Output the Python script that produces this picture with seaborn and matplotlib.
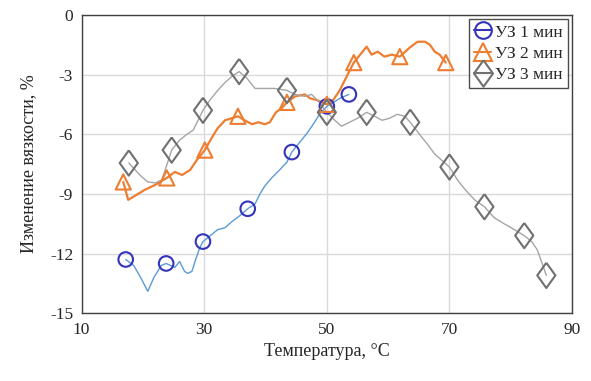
import numpy as np
import pandas as pd
import matplotlib
matplotlib.use("Agg")
import matplotlib.pyplot as plt
from matplotlib.lines import Line2D
import seaborn as sns

# УЗ 1 мин - curve
t1 = [17.2, 18.5, 19.8, 20.8, 21.8, 23.0, 23.8, 25.2, 26.0, 26.8, 27.3, 28.0, 28.6, 29.3,
      29.8, 31.0, 32.2, 33.4, 34.5, 35.8, 37.1, 38.3, 39.1, 39.9, 41.0, 42.3, 43.5, 44.3,
      45.6, 46.9, 48.0, 48.8, 50.0, 51.1, 52.1, 53.6]
v1 = [-12.3, -12.6, -13.3, -13.9, -13.2, -12.6, -12.5, -12.7, -12.4, -12.9, -13.0, -12.9,
      -12.3, -11.7, -11.4, -11.1, -10.8, -10.7, -10.4, -10.1, -9.75, -9.5, -9.0, -8.6,
      -8.2, -7.8, -7.4, -6.9, -6.4, -5.9, -5.4, -5.0, -4.6, -4.4, -4.2, -4.0]
m1_t = [17.2, 23.8, 29.8, 37.1, 44.3, 50.0, 53.6]
m1_v = [-12.3, -12.5, -11.4, -9.75, -6.9, -4.6, -4.0]

# УЗ 2 мин
t2 = [16.8, 17.6, 18.7, 20.3, 22.0, 23.9, 25.2, 26.4, 27.7, 28.8, 30.1, 31.2, 32.2, 33.4,
      34.5, 35.5, 36.6, 37.8, 38.8, 39.9, 40.7, 41.7, 42.6, 43.5, 44.8, 46.4, 47.3, 48.5,
      50.0, 51.0, 52.1, 53.4, 54.4, 55.7, 56.5, 57.3, 58.3, 59.4, 60.6, 61.9, 63.5, 64.8,
      66.0, 66.8, 67.6, 68.4, 69.4]
v2 = [-8.4, -9.3, -9.1, -8.8, -8.55, -8.2, -7.9, -8.05, -7.8, -7.3, -6.8, -6.2, -5.7, -5.3,
      -5.2, -5.1, -5.3, -5.5, -5.4, -5.5, -5.4, -4.9, -4.7, -4.4, -4.1, -4.0, -4.2, -4.3,
      -4.5, -4.3, -3.8, -3.0, -2.4, -1.9, -1.6, -2.0, -1.85, -2.1, -2.0, -2.1, -1.65, -1.35,
      -1.35, -1.5, -1.85, -2.0, -2.4]
m2_t = [16.8, 23.9, 30.1, 35.5, 43.5, 50.0, 54.4, 61.9, 69.4]
m2_v = [-8.4, -8.2, -6.8, -5.1, -4.4, -4.5, -2.4, -2.1, -2.4]

# УЗ 3 мин
t3 = [17.7, 19.5, 20.8, 22.0, 23.1, 24.7, 26.0, 27.2, 28.2, 29.0, 29.8, 30.9, 32.2, 33.4,
      34.5, 35.7, 37.0, 38.3, 39.9, 41.5, 43.5, 44.8, 46.4, 47.5, 48.5, 50.0, 51.3, 52.4,
      53.7, 55.0, 56.5, 57.8, 59.0, 60.2, 61.5, 62.7, 63.6, 65.1, 66.4, 67.6, 68.7, 70.0,
      71.3, 72.6, 74.1, 75.7, 77.3, 78.9, 80.6, 82.2, 83.4, 84.3, 85.0, 85.8]
v3 = [-7.45, -8.05, -8.4, -8.45, -8.3, -6.8, -6.3, -6.0, -5.8, -5.3, -4.8, -4.3, -3.8, -3.4,
      -3.1, -2.85, -3.2, -3.7, -3.7, -3.7, -3.8, -4.0, -4.1, -4.0, -4.3, -4.9, -5.3, -5.6,
      -5.4, -5.2, -4.9, -5.1, -5.3, -5.2, -5.0, -5.1, -5.4, -6.0, -6.5, -7.0, -7.3, -7.65,
      -8.3, -8.8, -9.3, -9.65, -10.2, -10.5, -10.8, -11.1, -11.4, -11.8, -12.4, -13.1]
m3_t = [17.7, 24.7, 29.8, 35.7, 43.5, 50.0, 56.5, 63.6, 70.0, 75.7, 82.2, 85.8]
m3_v = [-7.45, -6.8, -4.8, -2.85, -3.8, -4.9, -4.9, -5.4, -7.65, -9.65, -11.1, -13.1]

labels = ["УЗ 1 мин", "УЗ 2 мин", "УЗ 3 мин"]
line_colors = ["#5B9BD5", "#ED7D31", "#A5A5A5"]
marker_colors = ["#3333BB", "#ED7D31", "#707070"]
# diamond a bit narrower than tall, like the Excel one
diamond = [(0, 1), (0.72, 0), (0, -1), (-0.72, 0), (0, 1)]
markers = ["o", "^", diamond]

lines = pd.concat([
    pd.DataFrame({"t": t, "v": v, "s": s})
    for t, v, s in zip([t1, t2, t3], [v1, v2, v3], labels)
])
marks = pd.concat([
    pd.DataFrame({"t": t, "v": v, "s": s})
    for t, v, s in zip([m1_t, m2_t, m3_t], [m1_v, m2_v, m3_v], labels)
])

sns.set_style("white")
plt.rcParams["font.family"] = ["Liberation Serif", "DejaVu Serif"]
plt.rcParams["axes.unicode_minus"] = False

fig = plt.figure(figsize=(5.91, 3.81), dpi=100)
ax = fig.add_axes([0.138, 0.178, 0.830, 0.783])

widths = [1.0, 1.6, 1.0]
for s, lc, w in zip(labels, line_colors, widths):
    d = lines[lines.s == s]
    sns.lineplot(data=d, x="t", y="v", color=lc, lw=w, sort=False,
                 estimator=None, ax=ax, legend=False, zorder=2)

sizes = [110, 120, 330]
for s, mc, mk, sz in zip(labels, marker_colors, markers, sizes):
    d = marks[marks.s == s]
    sns.scatterplot(data=d, x="t", y="v", marker=mk, s=sz, facecolor="none",
                    edgecolor=mc, linewidth=1.5, ax=ax, legend=False, zorder=3)

ax.set_xlim(10, 90)
ax.set_ylim(-15, 0)
ax.set_xticks(np.arange(10, 91, 20))
ax.set_yticks(np.arange(-15, 1, 3))
ax.grid(True, color="#D9D9D9", lw=1)
ax.set_axisbelow(True)
for sp in ax.spines.values():
    sp.set_color("#404040")
    sp.set_linewidth(1.0)
ax.tick_params(length=0, labelsize=12.5, pad=6)
ax.set_xlabel("Температура, °С", fontsize=13, labelpad=4)
ax.set_ylabel("Изменение вязкости, %", fontsize=13, labelpad=9)

handles = [
    Line2D([], [], color=mc, marker=mk, markersize=ms, markerfacecolor="none",
           markeredgecolor=mc, markeredgewidth=1.5, lw=1.5)
    for mc, mk, ms in zip(marker_colors, markers, [12, 13, 19])
]
leg = ax.legend(handles, labels, loc="upper right", fontsize=12.5, handlelength=1.0,
                handletextpad=0.2, borderpad=0.3, labelspacing=0.3,
                frameon=True, fancybox=False, borderaxespad=0.25)
leg.get_frame().set_edgecolor("#202020")
leg.get_frame().set_linewidth(1.0)

fig.savefig("out.png", dpi=100)
